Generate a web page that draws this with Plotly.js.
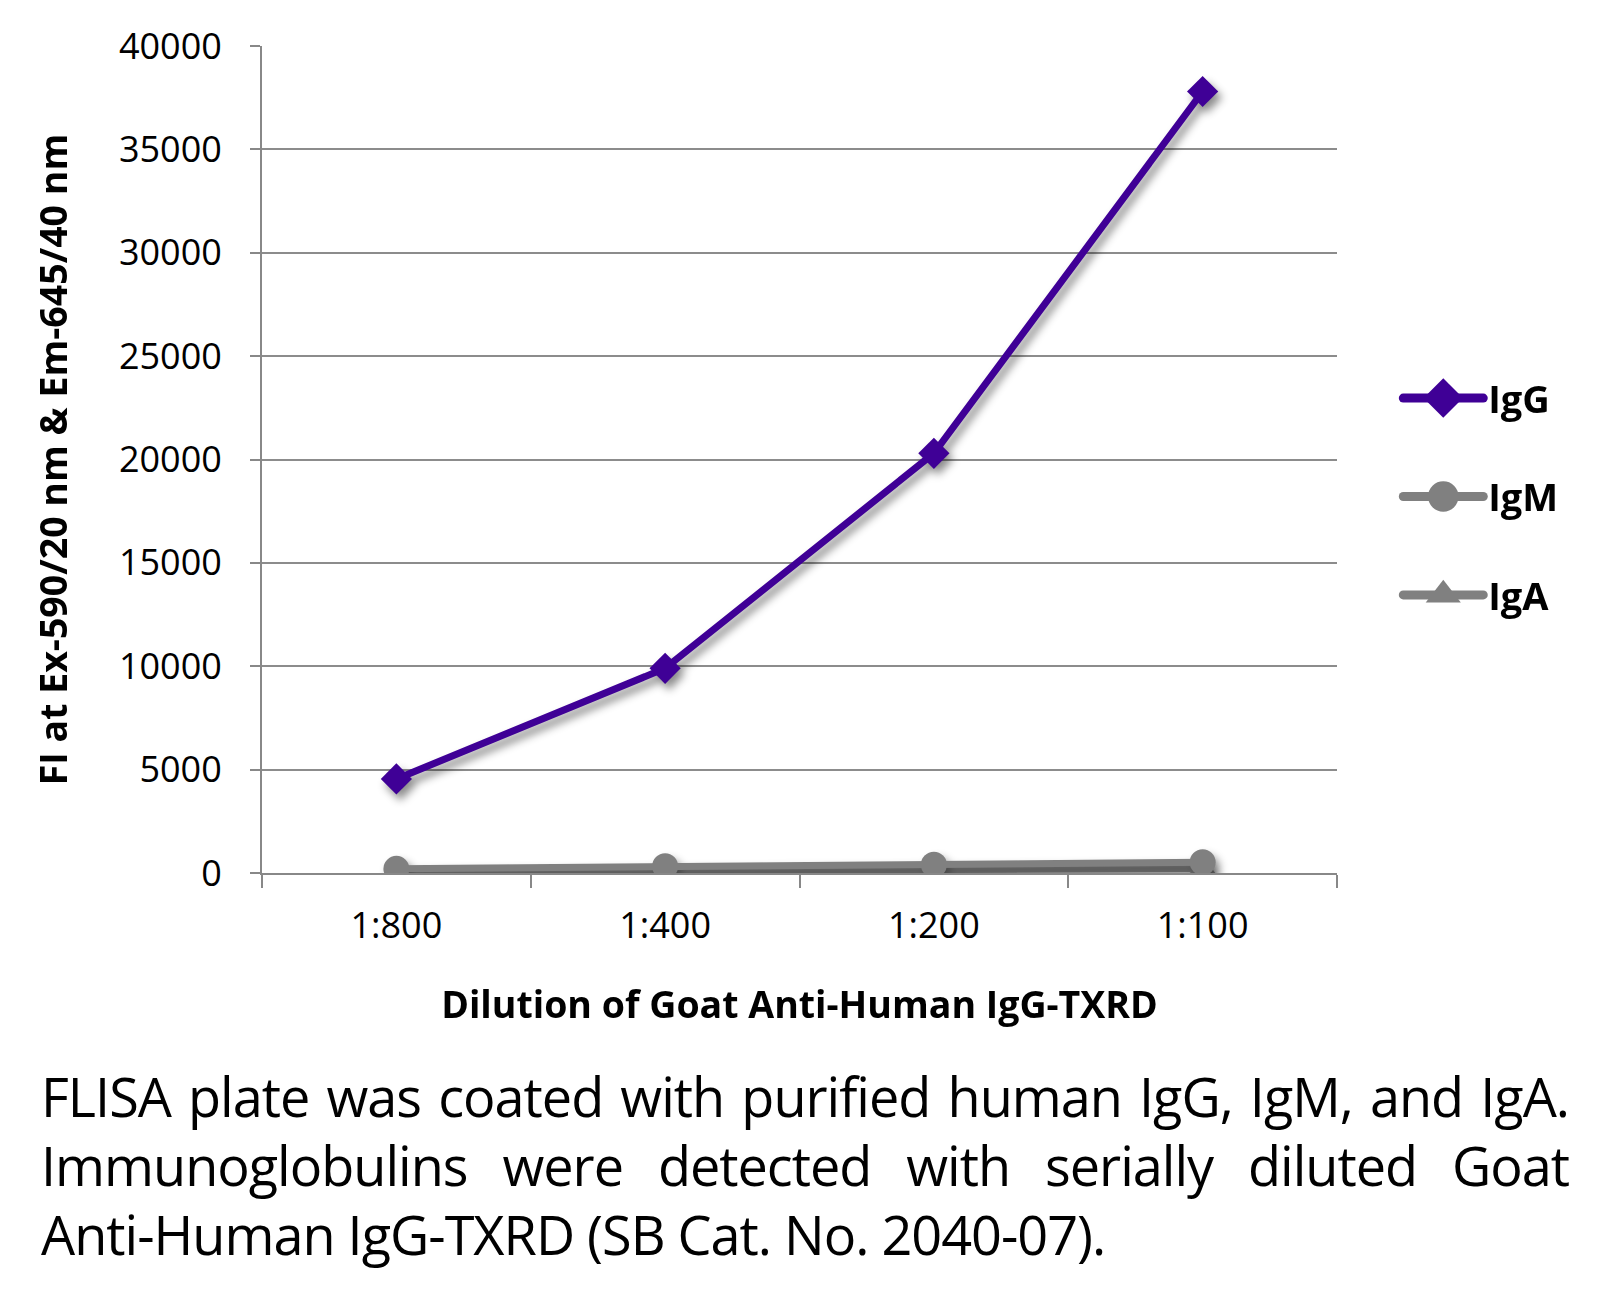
<!DOCTYPE html>
<html>
<head>
<meta charset="utf-8">
<script src="https://cdn.plot.ly/plotly-3.0.1.min.js"></script>
<style>
  html, body { margin: 0; padding: 0; background: #ffffff; }
  #chart { position: absolute; left: 0; top: 0; width: 1605px; height: 1040px; }
  #caption { position: absolute; left: 41px; top: 1062px; width: 1528px;
    font-family: "Open Sans", "Noto Sans", sans-serif; font-size: 54px; line-height: 69px;
    color: #000; letter-spacing: -1px; }
  .j { text-align: justify; text-align-last: justify; white-space: nowrap; }
</style>
</head>
<body>
<div id="chart"></div>
<div id="caption">
  <div class="j">FLISA plate was coated with purified human IgG, IgM, and IgA.</div>
  <div class="j">Immunoglobulins were detected with serially diluted Goat</div>
  <div>Anti-Human IgG-TXRD (SB Cat. No. 2040-07).</div>
</div>
<script>
const dilutions = ["1:800", "1:400", "1:200", "1:100"];
const igG = [4550, 9900, 20300, 37800];
const igM = [200, 330, 400, 520];
const igA = [60, 110, 160, 220];
const seriesNames = ["IgG", "IgM", "IgA"];

const purple = "#3f0096";
const gray = "#808080";

const traces = [
  { x: dilutions, y: igA, name: seriesNames[2], type: "scatter", mode: "lines+markers",
    line: { color: gray, width: 7 }, marker: { symbol: "triangle-up", size: 24, color: gray },
    legendgroup: "c", legendrank: 3 },
  { x: dilutions, y: igM, name: seriesNames[1], type: "scatter", mode: "lines+markers",
    line: { color: gray, width: 7 }, marker: { symbol: "circle", size: 26, color: gray },
    legendgroup: "b", legendrank: 2 },
  { x: dilutions, y: igG, name: seriesNames[0], type: "scatter", mode: "lines+markers",
    line: { color: purple, width: 7 }, marker: { symbol: "diamond", size: 24, color: purple },
    legendgroup: "a", legendrank: 1 }
];

const tickFont = { family: "Open Sans, Noto Sans, sans-serif", size: 36, color: "#000" };
const titleFont = { family: "Open Sans, Noto Sans, sans-serif", size: 37.5, color: "#000", weight: 700 };

const layout = {
  width: 1605, height: 1040,
  margin: { l: 262, r: 268, t: 46, b: 167, pad: 0 },
  paper_bgcolor: "#ffffff", plot_bgcolor: "#ffffff",
  showlegend: true,
  legend: { x: 1.057, xanchor: "left", y: 0.612, yanchor: "top", itemwidth: 80,
    font: { family: "Open Sans, Noto Sans, sans-serif", size: 38, color: "#000", weight: 700 },
    traceorder: "grouped", tracegroupgap: 46, bgcolor: "rgba(0,0,0,0)" },
  xaxis: {
    type: "category", range: [-0.5, 3.5], tickson: "boundaries",
    showline: true, linecolor: "#888", linewidth: 2,
    ticks: "outside", ticklen: 13, tickwidth: 2, tickcolor: "#888",
    showgrid: false, zeroline: false, tickfont: tickFont, ticklabelstandoff: 20,
    title: { text: "Dilution of Goat Anti-Human IgG-TXRD", font: titleFont, standoff: 44 }
  },
  yaxis: {
    range: [0, 40000], dtick: 5000, tickformat: "d",
    showline: true, linecolor: "#888", linewidth: 2,
    ticks: "outside", ticklen: 10, tickwidth: 2, tickcolor: "#888",
    showgrid: true, gridcolor: "#8c8c8c", gridwidth: 2, zeroline: false,
    tickfont: tickFont, ticklabelstandoff: 21,
    title: { text: "FI at Ex-590/20 nm & Em-645/40 nm", font: titleFont, standoff: 40 }
  }
};

Plotly.newPlot("chart", traces, layout, { displayModeBar: false, staticPlot: true }).then(function () {
  document.querySelectorAll("#chart .scatterlayer .trace").forEach(function (t) {
    t.style.filter = "drop-shadow(4px 6px 4px rgba(0,0,0,0.45))";
  });
  document.querySelectorAll("#chart .legend .legendpoints path.scatterpts").forEach(function (p) {
    const tr = p.getAttribute("transform") || "";
    p.setAttribute("transform", tr + " scale(1.9)");
  });
  document.querySelectorAll("#chart .legend .legendlines path").forEach(function (p) {
    p.style.strokeWidth = "9px";
    p.style.strokeLinecap = "round";
  });
});
</script>
</body>
</html>
